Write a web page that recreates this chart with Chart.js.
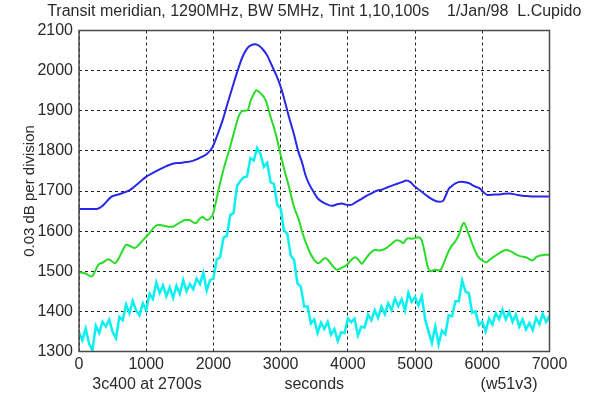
<!DOCTYPE html>
<html>
<head>
<meta charset="utf-8">
<script src="https://cdn.jsdelivr.net/npm/chart.js@4.4.1/dist/chart.umd.min.js"></script>
<style>
html,body{margin:0;padding:0;background:#fff;}
#wrap{width:608px;height:397px;}
</style>
</head>
<body>
<div id="wrap"><canvas id="c" width="608" height="397"></canvas></div>
<script>
// ---- data ----
const titleText = "Transit meridian, 1290MHz, BW 5MHz, Tint 1,10,100s    1/Jan/98  L.Cupido";
const yAxisTitle = "0.03 dB per division";
const xAxisTitle = "seconds";
const leftNote = "3c400 at 2700s";
const rightNote = "(w51v3)";
const xTicks = [0,1000,2000,3000,4000,5000,6000,7000];
const yTicks = [1300,1400,1500,1600,1700,1800,1900,2000,2100];

// Tint 100s (blue)
const blueTime = [0,260,350,484,600,755,900,1001,1100,1199,1300,1396,1500,1600,1692,1840,1920,1988,2060,2136,2210,2284,2360,2432,2500,2556,2620,2680,2740,2800,2860,2926,3000,3060,3123,3200,3260,3320,3369,3419,3500,3560,3616,3700,3764,3840,3912,3970,4035,4120,4200,4257,4350,4420,4503,4600,4700,4800,4873,4930,4996,5100,5193,5280,5366,5420,5460,5500,5539,5600,5687,5750,5810,5880,5958,6020,6081,6180,6278,6402,6500,6600,6700,6800,7000];
const blueVal  = [1655,1655,1663,1686,1692,1702,1722,1736,1745,1754,1762,1768,1770,1772,1775,1786,1795,1810,1840,1876,1918,1959,2000,2034,2055,2063,2066,2062,2052,2038,2016,1992,1960,1925,1885,1840,1800,1770,1740,1719,1695,1680,1673,1666,1663,1667,1669,1666,1665,1672,1680,1686,1694,1700,1703,1710,1716,1722,1726,1722,1711,1698,1686,1677,1673,1676,1690,1705,1711,1719,1723,1722,1719,1712,1707,1697,1690,1691,1692,1694,1691,1688,1687,1686,1686];

// Tint 10s (green)
const greenTime = [0,90,187,230,286,360,434,480,533,600,650,706,770,829,900,977,1050,1120,1174,1250,1330,1396,1450,1520,1580,1643,1700,1741,1790,1840,1880,1914,1960,1988,2040,2087,2160,2235,2310,2383,2440,2506,2556,2600,2639,2700,2778,2850,2926,3000,3060,3123,3200,3271,3320,3419,3500,3567,3620,3666,3720,3780,3838,3900,3986,4050,4109,4160,4208,4260,4330,4405,4480,4577,4650,4725,4780,4824,4860,4898,4960,5046,5095,5140,5193,5240,5292,5340,5391,5450,5500,5539,5600,5650,5690,5727,5770,5810,5870,5934,6000,6057,6120,6180,6260,6353,6420,6500,6575,6650,6700,6748,6800,6880,6944,7000];
const greenVal  = [1498,1495,1487,1497,1516,1522,1530,1526,1520,1535,1552,1566,1562,1558,1568,1582,1595,1610,1616,1614,1611,1611,1616,1623,1628,1628,1622,1620,1630,1635,1630,1628,1634,1640,1675,1711,1760,1802,1848,1889,1900,1901,1926,1942,1951,1944,1926,1885,1843,1790,1750,1711,1660,1628,1598,1553,1528,1520,1528,1533,1525,1512,1504,1508,1516,1528,1535,1528,1519,1530,1545,1553,1552,1558,1568,1577,1575,1570,1578,1582,1581,1585,1578,1550,1508,1500,1504,1502,1506,1530,1550,1562,1575,1590,1610,1621,1605,1587,1560,1537,1527,1522,1530,1537,1546,1553,1550,1542,1537,1535,1530,1527,1535,1540,1541,1541];

// Tint 1s (cyan), sampled every 50 s from 0 to 7000 s
const cyanStart = 0;
const cyanStep = 50;
const cyanVal = [1348,1328,1357,1320,1303,1364,1346,1374,1362,1379,1349,1333,1386,1378,1417,1396,1426,1402,1390,1420,
                 1403,1444,1431,1472,1446,1465,1438,1460,1434,1464,1444,1478,1450,1468,1455,1482,1468,1496,1452,1478,
                 1482,1530,1535,1584,1588,1640,1645,1712,1725,1734,1736,1782,1776,1807,1792,1760,1770,1722,1718,1665,
                 1657,1602,1593,1539,1528,1470,1462,1412,1412,1370,1380,1346,1372,1356,1374,1342,1356,1326,1348,1346,
                 1382,1373,1382,1340,1362,1360,1392,1378,1403,1384,1412,1393,1420,1403,1432,1413,1430,1402,1446,1424,
                 1436,1415,1438,1380,1350,1321,1362,1318,1352,1343,1390,1388,1425,1425,1477,1450,1445,1396,1400,1366,
                 1374,1350,1382,1367,1395,1381,1404,1380,1399,1374,1392,1362,1380,1355,1371,1353,1384,1368,1394,1374,1389];

const toXY = (t, v) => t.map((x, i) => ({x: x, y: v[i]}));
const cyanXY = cyanVal.map((v, i) => ({x: cyanStart + i * cyanStep, y: v}));

const FONT = "'Liberation Sans', Arial, sans-serif";
const TXT = '#2a2a2a';

const framePlugin = {
  id: 'frame',
  afterDraw(chart) {
    const {ctx, chartArea: a} = chart;
    ctx.save();
    ctx.strokeStyle = '#4a4a4a';
    ctx.lineWidth = 1.5;
    ctx.strokeRect(a.left, a.top, a.right - a.left, a.bottom - a.top);
    ctx.fillStyle = TXT;
    ctx.font = '16px ' + FONT;
    ctx.textBaseline = 'middle';
    ctx.textAlign = 'center';
    ctx.fillText(titleText, (a.left + a.right) / 2, 12);
    ctx.fillText(leftNote, 147, 385);
    ctx.fillText(rightNote, 509, 385);
    ctx.restore();
  }
};

new Chart(document.getElementById('c'), {
  type: 'line',
  data: {
    datasets: [
      {label: 'Tint 1s', data: cyanXY, borderColor: 'rgb(10,240,240)', borderWidth: 2.5, pointRadius: 0, tension: 0, order: 3},
      {label: 'Tint 10s', data: toXY(greenTime, greenVal), borderColor: 'rgb(40,220,40)', borderWidth: 2, pointRadius: 0, cubicInterpolationMode: 'monotone', order: 2},
      {label: 'Tint 100s', data: toXY(blueTime, blueVal), borderColor: 'rgb(40,40,230)', borderWidth: 2, pointRadius: 0, cubicInterpolationMode: 'monotone', order: 1}
    ]
  },
  options: {
    responsive: false,
    animation: false,
    devicePixelRatio: 1,
    layout: {padding: {left: 0, right: 58.5, top: 30.5, bottom: 0}},
    plugins: {
      legend: {display: false},
      tooltip: {enabled: false},
      title: {display: false}
    },
    scales: {
      x: {
        type: 'linear',
        min: 0, max: 7000,
        afterBuildTicks(s) { s.ticks = xTicks.map(v => ({value: v})); },
        afterFit(s) { s.height = 45.5; },
        ticks: {color: TXT, font: {family: FONT, size: 16}, padding: 3, maxRotation: 0, autoSkip: false, callback: v => String(v)},
        grid: {color: '#222', lineWidth: 1, drawTicks: false},
        border: {display: false, dash: [3, 3]},
        title: {display: true, text: xAxisTitle, color: TXT, font: {family: FONT, size: 16}, padding: {top: 0, bottom: 2.4}}
      },
      y: {
        type: 'linear',
        min: 1300, max: 2100,
        afterBuildTicks(s) { s.ticks = yTicks.map(v => ({value: v})); },
        afterFit(s) { s.width = 79; },
        ticks: {color: TXT, font: {family: FONT, size: 16}, padding: 6, autoSkip: false, callback: v => String(v)},
        grid: {color: '#222', lineWidth: 1, drawTicks: false},
        border: {display: false, dash: [3, 3]},
        title: {display: true, text: yAxisTitle, color: TXT, font: {family: FONT, size: 15}, padding: {top: 21, bottom: 0}}
      }
    }
  },
  plugins: [framePlugin]
});
</script>
</body>
</html>
